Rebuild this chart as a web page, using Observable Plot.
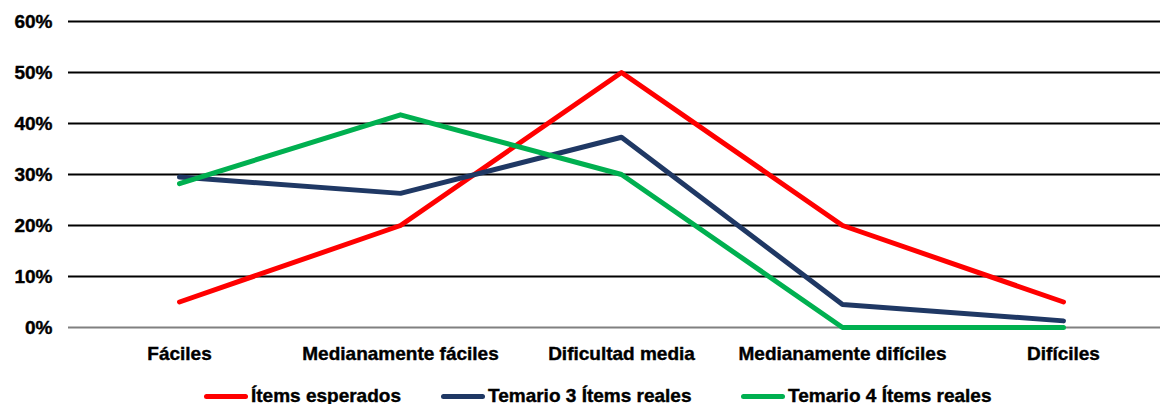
<!DOCTYPE html>
<html>
<head>
<meta charset="utf-8">
<script src="https://cdn.jsdelivr.net/npm/d3@7"></script>
<script src="https://cdn.jsdelivr.net/npm/@observablehq/plot@0.6"></script>
<style>
  html, body { margin: 0; padding: 0; background: #fff; }
  body { width: 1160px; height: 404px; overflow: hidden; font-family: "Liberation Sans", Arial, sans-serif; }
  #chart svg { display: block; }
  #legend { position: relative; height: 18px; margin-top: 9px; font-weight: bold; font-size: 19px; line-height: 18px; color: #000; -webkit-text-stroke: 0.4px #000; }
  .item { position: absolute; top: 0; display: flex; align-items: center; height: 18px; }
  .sw { width: 44px; height: 5px; border-radius: 2.5px; margin-right: 3px; }
  svg text { stroke: #000; stroke-width: 0.4px; }
</style>
</head>
<body>
<div id="chart"></div>
<div id="legend"></div>
<script>
const categories = ["Fáciles", "Medianamente fáciles", "Dificultad media", "Medianamente difíciles", "Difíciles"];
const seriesNames = ["Ítems esperados", "Temario 3 Ítems reales", "Temario 4 Ítems reales"];
const seriesColors = ["#FF0000", "#1F3864", "#00B050"];
const esperados = [5, 20, 50, 20, 5];
const temario3 = [29.5, 26.3, 37.3, 4.5, 1.3];
const temario4 = [28.2, 41.7, 30, 0, 0];
const yTicks = [0, 10, 20, 30, 40, 50, 60];

const seriesValues = [esperados, temario3, temario4];
const data = seriesNames.flatMap((s, i) =>
  categories.map((c, j) => ({ series: s, category: c, value: seriesValues[i][j] })));

const chart = Plot.plot({
  width: 1160,
  height: 378,
  marginLeft: 68,
  marginRight: -14,
  marginTop: 21,
  marginBottom: 51,
  style: { fontFamily: "'Liberation Sans', Arial, sans-serif", fontSize: "19px", fontWeight: "bold", color: "#000", background: "#fff" },
  x: { type: "point", domain: categories, padding: 0.5 },
  y: { domain: [0, 60] },
  color: { domain: seriesNames, range: seriesColors },
  marks: [
    Plot.ruleY(yTicks.filter(d => d > 0), { stroke: "#000", strokeWidth: 2 }),
    Plot.ruleY([0], { stroke: "#808080", strokeWidth: 2 }),
    Plot.axisY({ ticks: yTicks, tickSize: 0, tickPadding: 16, tickFormat: d => d + "%", label: null, fill: "#000" }),
    Plot.axisX({ tickSize: 0, tickPadding: 19, label: null, fill: "#000" }),
    Plot.lineY(data, { x: "category", y: "value", z: "series", stroke: "series", strokeWidth: 5, strokeLinejoin: "round", strokeLinecap: "round" })
  ]
});
document.getElementById("chart").appendChild(chart);

const legendPos = [204, 441, 741];
const legend = document.getElementById("legend");
seriesNames.forEach((s, i) => {
  const it = document.createElement("div");
  it.className = "item";
  it.style.left = legendPos[i] + "px";
  const sw = document.createElement("span");
  sw.className = "sw";
  sw.style.background = seriesColors[i];
  const tx = document.createElement("span");
  tx.textContent = s;
  it.appendChild(sw); it.appendChild(tx);
  legend.appendChild(it);
});
</script>
</body>
</html>
